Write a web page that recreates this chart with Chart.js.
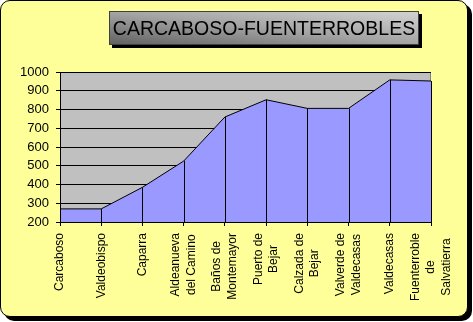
<!DOCTYPE html>
<html>
<head>
<meta charset="utf-8">
<script src="https://cdn.jsdelivr.net/npm/chart.js@4/dist/chart.umd.min.js"></script>
<style>
  html, body { margin: 0; padding: 0; background: #fff; }
  #wrap { position: relative; width: 473px; height: 322px; overflow: hidden; }
  #panel {
    position: absolute; left: 0; top: 0; width: 466px; height: 315px;
    background: #FFFF99; border: 1px solid #000; border-radius: 10px;
    box-shadow: 4px 4px 0 #000;
  }
  #title {
    position: absolute; left: 109px; top: 11px; width: 308px; height: 32px;
    border: 1px solid #404040;
    background: linear-gradient(to top right, #626262, #a4a4a4 50%, #d2d2d2);
    box-shadow: 3px 3px 0 #000;
    font: 19.5px Arial, "Liberation Sans", sans-serif; color: #000;
    line-height: 33px; text-align: center; white-space: nowrap;
  }
  canvas { position: absolute; left: 0; top: 0; }
</style>
</head>
<body>
<div id="wrap">
  <div id="panel"></div>
  <canvas id="profileChart" width="473" height="322"></canvas>
  <div id="title">CARCABOSO-FUENTERROBLES</div>
</div>
<script>
// stops along the route and their altitude (m)
const stops = [
  'Carcaboso', 'Valdeobispo', 'Caparra', ['Aldeanueva', 'del Camino'],
  ['Baños de', 'Montemayor'], ['Puerto de', 'Bejar'], ['Calzada de', 'Bejar'],
  ['Valverde de', 'Valdecasas'], 'Valdecasas', ['Fuenterroble', 'de', 'Salvatierra']
];
const altitudes = [270, 270, 385, 525, 760, 852, 806, 806, 958, 952];
const yMin = 200;
const yMax = 1000;
const yStep = 100;

const labelFont = '12px Arial, "Liberation Sans", sans-serif';

// grey plot background behind the grid
const plotBackground = {
  id: 'plotBackground',
  beforeDraw(chart) {
    const { ctx, chartArea: a } = chart;
    ctx.save();
    ctx.fillStyle = '#C0C0C0';
    ctx.fillRect(a.left, a.top, a.right - a.left, a.bottom - a.top);
    ctx.strokeStyle = '#808080';
    ctx.lineWidth = 1;
    ctx.strokeRect(Math.round(a.left) + 0.5, Math.round(a.top) + 0.5,
      Math.round(a.right - a.left) - 1, Math.round(a.bottom - a.top));
    ctx.restore();
  }
};

// vertical drop lines from every point down to the base
const dropLines = {
  id: 'dropLines',
  afterDatasetsDraw(chart) {
    const { ctx } = chart;
    const base = chart.scales.y.getPixelForValue(yMin);
    ctx.save();
    ctx.strokeStyle = '#000';
    ctx.lineWidth = 1;
    chart.getDatasetMeta(0).data.forEach(p => {
      const x = Math.round(p.x) + 0.5;
      ctx.beginPath();
      ctx.moveTo(x, p.y);
      ctx.lineTo(x, base);
      ctx.stroke();
    });
    ctx.restore();
  }
};

// vertical category labels, each block top-aligned under its tick,
// with the lines of a wrapped name centred on one another
const stopLabels = {
  id: 'stopLabels',
  afterDraw(chart) {
    const { ctx } = chart;
    const xs = chart.scales.x;
    const top = xs.top + 11;
    const pitch = 15.5;
    ctx.save();
    ctx.font = labelFont;
    ctx.fillStyle = '#000';
    ctx.textAlign = 'center';
    ctx.textBaseline = 'middle';
    chart.data.labels.forEach((lbl, i) => {
      const lines = Array.isArray(lbl) ? lbl : [lbl];
      const len = Math.max(...lines.map(l => ctx.measureText(l).width));
      const cy = top + len / 2;
      const x0 = xs.getPixelForTick(i);
      lines.forEach((line, j) => {
        const cx = x0 + (j - (lines.length - 1) / 2) * pitch;
        ctx.save();
        ctx.translate(cx, cy);
        ctx.rotate(-Math.PI / 2);
        ctx.fillText(line, 0, 0);
        ctx.restore();
      });
    });
    ctx.restore();
  }
};

new Chart(document.getElementById('profileChart'), {
  type: 'line',
  data: {
    labels: stops,
    datasets: [{
      data: altitudes,
      borderColor: '#000',
      borderWidth: 1,
      backgroundColor: '#9999FF',
      fill: 'start',
      tension: 0,
      pointRadius: 0
    }]
  },
  options: {
    responsive: false,
    animation: false,
    layout: { padding: { top: 72, right: 42, left: 0, bottom: 0 } },
    plugins: { legend: { display: false }, tooltip: { enabled: false } },
    scales: {
      x: {
        offset: false,
        grid: { drawOnChartArea: false, color: '#000', tickLength: 4 },
        border: { color: '#000' },
        ticks: { display: false, autoSkip: false },
        afterFit(s) { s.height = 100; }
      },
      y: {
        min: yMin, max: yMax,
        grid: { color: '#000', tickLength: 4 },
        border: { color: '#000' },
        ticks: {
          stepSize: yStep, padding: 7, color: '#000',
          font: { family: 'Arial, "Liberation Sans"', size: 13 },
          callback: v => String(v)
        },
        afterFit(s) { s.width = 60; }
      }
    }
  },
  plugins: [plotBackground, dropLines, stopLabels]
});
</script>
</body>
</html>
